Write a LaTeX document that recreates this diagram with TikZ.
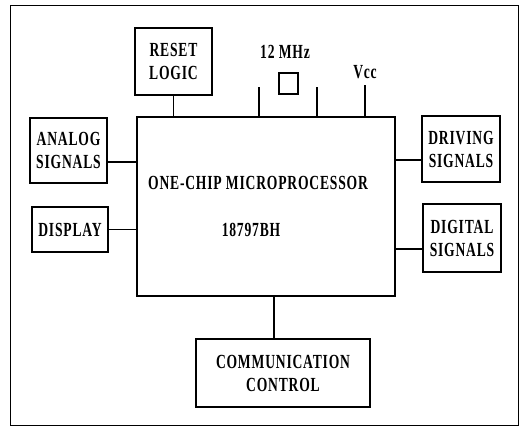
\documentclass[tikz,border=0pt]{standalone}
\usepackage{fontspec}
\setmainfont{Liberation Serif}[FakeStretch=0.68, LetterSpace=4]
\usepackage{tikz}
\usetikzlibrary{positioning, calc}

\tikzset{
  blockbox/.style={draw, line width=1.1pt, inner sep=0pt, align=center},
  wire/.style={line width=1.1pt},
  lbl/.style={inner sep=0pt},
}

\begin{document}
\begin{tikzpicture}[x=1pt, y=-1pt, font=\fontsize{20}{23}\selectfont\bfseries]
    \useasboundingbox (0,0) rectangle (526,428);
    % ── frame ─────────────────────────────────────────────
    \draw[line width=0.9pt] (10,5) rectangle (518,425);

    % ── blocks ────────────────────────────────────────────
    \node[blockbox, minimum width=258pt, minimum height=179pt] (mcu) at (266,206.5) {};
    \node[lbl] (mcutitle) at (258,183) {ONE-CHIP MICROPROCESSOR};
    \node[lbl] (mcupart) at (251,230) {18797BH};

    \node[blockbox, minimum width=77pt, minimum height=67pt] (reset) at (173.5,61.5) {RESET\\LOGIC};
    \node[blockbox, minimum width=77pt, minimum height=65pt] (analog) at (68.5,150.5) {ANALOG\\SIGNALS};
    \node[blockbox, minimum width=76pt, minimum height=45pt] (display) at (70,229.5) {DISPLAY};
    \node[blockbox, minimum width=78pt, minimum height=66pt] (driving) at (461,149) {DRIVING\\SIGNALS};
    \node[blockbox, minimum width=78pt, minimum height=68pt] (digital) at (462,238) {DIGITAL\\SIGNALS};
    \node[blockbox, minimum width=174pt, minimum height=68pt] (comm) at (283,373) {COMMUNICATION\\CONTROL};

    % ── crystal and supply ────────────────────────────────
    \node[lbl] (mhz) at (285,52) {12 MHz};
    \node[draw, line width=1.1pt, minimum width=19pt, minimum height=21pt, inner sep=0pt] (xtal) at (288.5,83.5) {};
    \node[lbl] (vcc) at (365,72) {Vcc};
    \coordinate (xa) at (259,87);
    \coordinate (xb) at (317,87);
    \coordinate (vpin) at (365,85);

    % ── connections ───────────────────────────────────────
    \coordinate (analogout) at ([yshift=-11.5pt]analog.east);
    \coordinate (drivingin) at ([yshift=-11pt]driving.west);
    \coordinate (digitalin) at ([yshift=-11pt]digital.west);
    \coordinate (commin) at ([xshift=-9pt]comm.north);
    \draw[wire] (reset.south) -- (reset.south |- mcu.north);
    \draw[wire] (xa) -- (xa |- mcu.north);
    \draw[wire] (xb) -- (xb |- mcu.north);
    \draw[wire] (vpin) -- (vpin |- mcu.north);
    \draw[wire] (analogout) -- (mcu.west |- analogout);
    \draw[wire] (display.east) -- (mcu.west |- display.east);
    \draw[wire] (drivingin) -- (mcu.east |- drivingin);
    \draw[wire] (digitalin) -- (mcu.east |- digitalin);
    \draw[wire] (commin) -- (mcu.south -| commin);
\end{tikzpicture}
\end{document}
